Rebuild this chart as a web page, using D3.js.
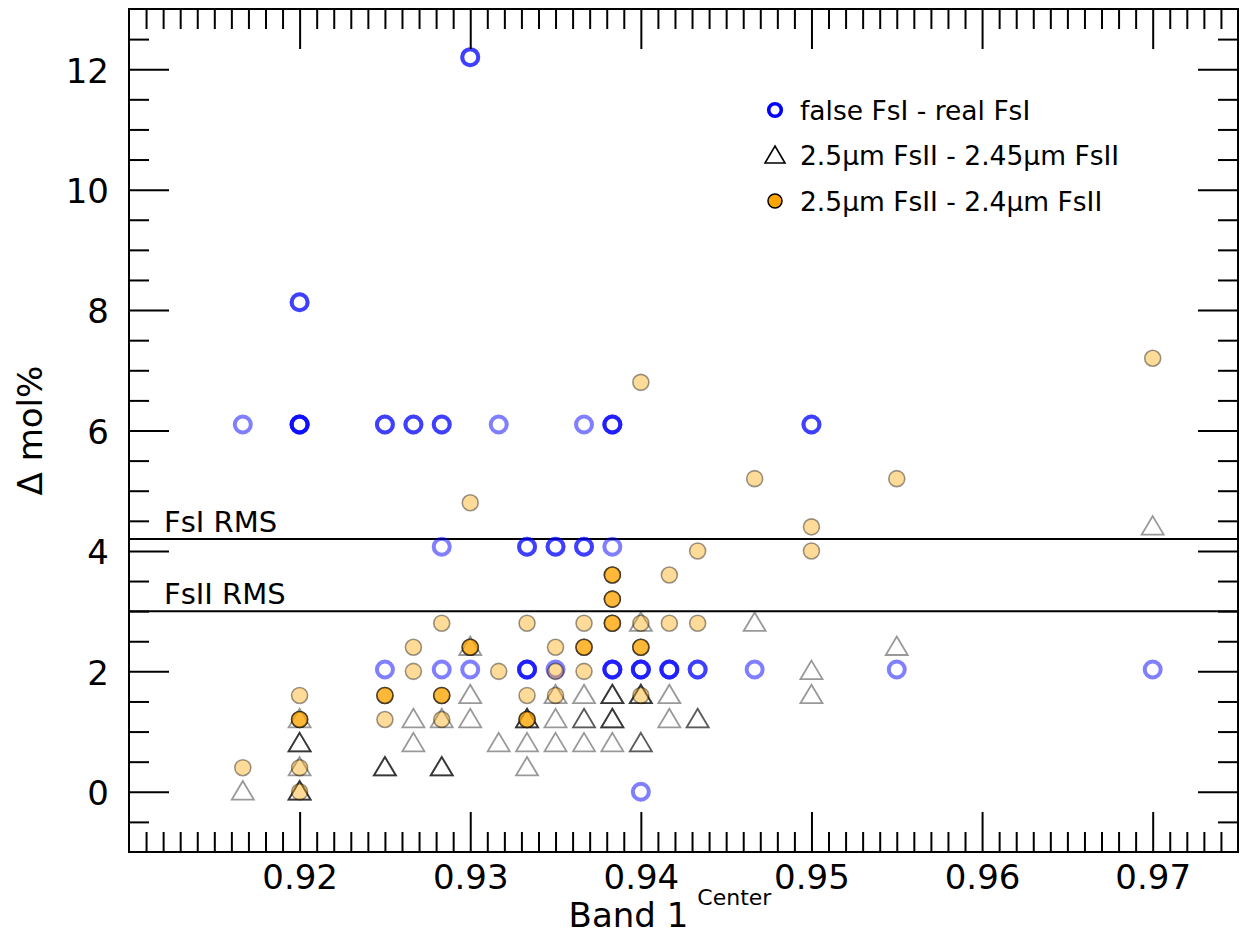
<!DOCTYPE html>
<html>
<head>
<meta charset="utf-8">
<script src="https://cdn.jsdelivr.net/npm/d3@7"></script>
<style>
  html, body { margin: 0; padding: 0; background: #fff; }
  svg { display: block; font-family: "DejaVu Sans", sans-serif; }
</style>
</head>
<body>
<svg id="chart" width="1241" height="935"></svg>
<script>
// Each entry: [band 1 center, Δ mol%, number of coincident samples]
const fsI = [
  [0.93, 12.2, 2],
  [0.92, 8.13, 2],
  [0.91667, 6.1, 1], [0.92, 6.1, 4], [0.925, 6.1, 2], [0.92667, 6.1, 2], [0.92833, 6.1, 2],
  [0.93167, 6.1, 1], [0.93667, 6.1, 1], [0.93833, 6.1, 3], [0.95, 6.1, 2],
  [0.92833, 4.07, 1], [0.93333, 4.07, 2], [0.935, 4.07, 2], [0.93667, 4.07, 2], [0.93833, 4.07, 1],
  [0.925, 2.03, 1], [0.92833, 2.03, 1], [0.93, 2.03, 1], [0.93333, 2.03, 3], [0.935, 2.03, 1],
  [0.93833, 2.03, 3], [0.94, 2.03, 3], [0.94167, 2.03, 3], [0.94333, 2.03, 2],
  [0.94667, 2.03, 1], [0.955, 2.03, 1], [0.97, 2.03, 1],
  [0.94, 0.0, 1]
];

const fsII245 = [
  [0.91667, 0.0, 1],
  [0.92, 1.2, 1], [0.92, 0.8, 3], [0.92, 0.4, 1], [0.92, 0.0, 3],
  [0.925, 0.4, 3],
  [0.92667, 1.2, 1], [0.92667, 0.8, 1],
  [0.92833, 1.2, 1], [0.92833, 0.4, 3],
  [0.93, 2.4, 1], [0.93, 1.6, 1], [0.93, 1.2, 1],
  [0.93167, 0.8, 1],
  [0.93333, 1.2, 3], [0.93333, 0.8, 1], [0.93333, 0.4, 1],
  [0.935, 1.6, 1], [0.935, 1.2, 1], [0.935, 0.8, 1],
  [0.93667, 1.6, 1], [0.93667, 1.2, 2], [0.93667, 0.8, 1],
  [0.93833, 1.6, 3], [0.93833, 1.2, 3], [0.93833, 0.8, 1],
  [0.94, 2.8, 1], [0.94, 1.6, 3], [0.94, 0.8, 2],
  [0.94167, 1.6, 1], [0.94167, 1.2, 1],
  [0.94333, 1.2, 2],
  [0.94667, 2.8, 1],
  [0.95, 2.0, 1], [0.95, 1.6, 1],
  [0.955, 2.4, 1],
  [0.97, 4.4, 1]
];

const fsII24 = [
  [0.91667, 0.4, 1],
  [0.92, 1.6, 1], [0.92, 1.2, 3], [0.92, 0.4, 1], [0.92, 0.0, 1],
  [0.925, 1.6, 3], [0.925, 1.2, 1],
  [0.92667, 2.4, 1], [0.92667, 2.0, 1],
  [0.92833, 2.8, 1], [0.92833, 1.6, 3], [0.92833, 1.2, 1],
  [0.93, 4.8, 1], [0.93, 2.4, 3],
  [0.93167, 2.0, 1],
  [0.93333, 2.8, 1], [0.93333, 1.6, 1], [0.93333, 1.2, 3],
  [0.935, 2.4, 1], [0.935, 2.0, 1], [0.935, 1.6, 1],
  [0.93667, 2.8, 1], [0.93667, 2.4, 3], [0.93667, 2.0, 1],
  [0.93833, 3.6, 3], [0.93833, 3.2, 3], [0.93833, 2.8, 3],
  [0.94, 6.8, 1], [0.94, 2.8, 1], [0.94, 2.4, 3], [0.94, 1.6, 1],
  [0.94167, 3.6, 1], [0.94167, 2.8, 1],
  [0.94333, 4.0, 1], [0.94333, 2.8, 1],
  [0.94667, 5.2, 1],
  [0.95, 4.4, 1], [0.95, 4.0, 1],
  [0.955, 5.2, 1],
  [0.97, 7.2, 1]
];

// Reference RMS levels
const rmsLevels = [
  { label: "FsI RMS", value: 4.2 },
  { label: "FsII RMS", value: 3.0 }
];

const xTicks = [0.92, 0.93, 0.94, 0.95, 0.96, 0.97];
const yTicks = [0, 2, 4, 6, 8, 10, 12];
const xDomain = [0.91, 0.975];
const yDomain = [-1, 13];

const legendLabels = [
  "false FsI - real FsI",
  "2.5\u00b5m FsII - 2.45\u00b5m FsII",
  "2.5\u00b5m FsII - 2.4\u00b5m FsII"
];

// ---- layout ----
const plot = { left: 129, right: 1238, top: 9, bottom: 852 };
const svg = d3.select("#chart");

const x = d3.scaleLinear().domain(xDomain).range([plot.left, plot.right]);
const y = d3.scaleLinear().domain(yDomain).range([plot.bottom, plot.top]);

// expand repeated samples into individual marks
const expand = arr => arr.flatMap(([bx, dv, n]) => d3.range(n).map(() => ({ x: bx, y: dv })));

const xMinor = d3.range(911, 975).map(v => v / 1000).filter(v => !xTicks.some(t => Math.abs(t - v) < 1e-9));
const yMinor = d3.range(-1, 26).map(v => v / 2).filter(v => !yTicks.includes(v));

const fontTick = 34;

// RMS lines
svg.append("g").selectAll("line").data(rmsLevels).join("line")
  .attr("x1", plot.left).attr("x2", plot.right)
  .attr("y1", d => y(d.value)).attr("y2", d => y(d.value))
  .attr("stroke", "#000").attr("stroke-width", 2);

svg.append("g").selectAll("text").data(rmsLevels).join("text")
  .attr("x", plot.left + 35)
  .attr("y", d => y(d.value) - 7)
  .attr("font-size", 29)
  .attr("fill", "#000")
  .text(d => d.label);

// Marker shapes
const triPath = (w, h) => `M0,${-h / 2}L${w / 2},${h / 2}L${-w / 2},${h / 2}Z`;

// false FsI - real FsI (open blue rings)
svg.append("g").selectAll("circle").data(expand(fsI)).join("circle")
  .attr("cx", d => x(d.x)).attr("cy", d => y(d.y)).attr("r", 8)
  .attr("fill", "none").attr("stroke", "blue").attr("stroke-opacity", 0.5)
  .attr("stroke-width", 4);

// 2.5µm FsII - 2.45µm FsII (open triangles)
svg.append("g").selectAll("path").data(expand(fsII245)).join("path")
  .attr("transform", d => `translate(${x(d.x)},${y(d.y) - 1.5})`)
  .attr("d", triPath(22, 18.5))
  .attr("fill", "none").attr("stroke", "#000").attr("stroke-opacity", 0.4)
  .attr("stroke-width", 1.8).attr("stroke-linejoin", "miter");

// 2.5µm FsII - 2.4µm FsII (orange filled circles)
svg.append("g").selectAll("circle").data(expand(fsII24)).join("circle")
  .attr("cx", d => x(d.x)).attr("cy", d => y(d.y)).attr("r", 8)
  .attr("fill", "orange").attr("fill-opacity", 0.4)
  .attr("stroke", "#000").attr("stroke-opacity", 0.4).attr("stroke-width", 1.6);

// ---- axes (inward ticks on all four sides) ----
function styleAxis(g) {
  g.select(".domain").remove();
  g.selectAll(".tick line").attr("stroke", "#000").attr("stroke-width", 2);
  g.selectAll("text").attr("font-family", "DejaVu Sans, sans-serif").attr("fill", "#000");
}

// bottom
svg.append("g").attr("transform", `translate(0,${plot.bottom})`)
  .call(d3.axisBottom(x).tickValues(xMinor).tickSize(-20).tickFormat(""))
  .call(styleAxis);
svg.append("g").attr("transform", `translate(0,${plot.bottom})`)
  .call(d3.axisBottom(x).tickValues(xTicks).tickSize(-40).tickPadding(13).tickFormat(d3.format(".2f")))
  .call(styleAxis)
  .call(g => g.selectAll("text").attr("font-size", fontTick));

// top
svg.append("g").attr("transform", `translate(0,${plot.top})`)
  .call(d3.axisTop(x).tickValues(xMinor).tickSize(-20).tickFormat(""))
  .call(styleAxis);
svg.append("g").attr("transform", `translate(0,${plot.top})`)
  .call(d3.axisTop(x).tickValues(xTicks).tickSize(-40).tickFormat(""))
  .call(styleAxis);

// left
svg.append("g").attr("transform", `translate(${plot.left},0)`)
  .call(d3.axisLeft(y).tickValues(yMinor).tickSize(-20).tickFormat(""))
  .call(styleAxis);
svg.append("g").attr("transform", `translate(${plot.left},0)`)
  .call(d3.axisLeft(y).tickValues(yTicks).tickSize(-40).tickPadding(20).tickFormat(d3.format("d")))
  .call(styleAxis)
  .call(g => g.selectAll("text").attr("font-size", fontTick).attr("dy", "0.38em"));

// right
svg.append("g").attr("transform", `translate(${plot.right},0)`)
  .call(d3.axisRight(y).tickValues(yMinor).tickSize(-20).tickFormat(""))
  .call(styleAxis);
svg.append("g").attr("transform", `translate(${plot.right},0)`)
  .call(d3.axisRight(y).tickValues(yTicks).tickSize(-40).tickFormat(""))
  .call(styleAxis);

// frame
svg.append("rect")
  .attr("x", plot.left).attr("y", plot.top)
  .attr("width", plot.right - plot.left).attr("height", plot.bottom - plot.top)
  .attr("fill", "none").attr("stroke", "#000").attr("stroke-width", 2);

// ---- axis titles ----
const xTitle = svg.append("text")
  .attr("x", 670).attr("y", 927)
  .attr("text-anchor", "middle")
  .attr("font-size", 34).attr("fill", "#000");
xTitle.append("tspan").text("Band 1");
xTitle.append("tspan").attr("dx", 9).attr("dy", -22).attr("font-size", 22).text("Center");

svg.append("text")
  .attr("transform", `translate(42,${(plot.top + plot.bottom) / 2}) rotate(-90)`)
  .attr("text-anchor", "middle")
  .attr("font-size", 34).attr("fill", "#000")
  .text("\u0394 mol%");

// ---- legend ----
const legend = svg.append("g").attr("transform", "translate(775,110)");
const rowGap = 45.5;
const rows = legend.selectAll("g").data(legendLabels).join("g")
  .attr("transform", (d, i) => `translate(0,${i * rowGap})`);

rows.filter((d, i) => i === 0).append("circle")
  .attr("r", 6.3).attr("fill", "none").attr("stroke", "blue").attr("stroke-width", 3.6);
rows.filter((d, i) => i === 1).append("path")
  .attr("d", triPath(20, 17)).attr("transform", "translate(0,-1)")
  .attr("fill", "none").attr("stroke", "#000").attr("stroke-width", 1.6);
rows.filter((d, i) => i === 2).append("circle")
  .attr("r", 7).attr("fill", "orange").attr("stroke", "#000").attr("stroke-width", 1.5);

rows.append("text")
  .attr("x", 25).attr("y", 9.5)
  .attr("font-size", 26.5).attr("fill", "#000")
  .text(d => d);
</script>
</body>
</html>
